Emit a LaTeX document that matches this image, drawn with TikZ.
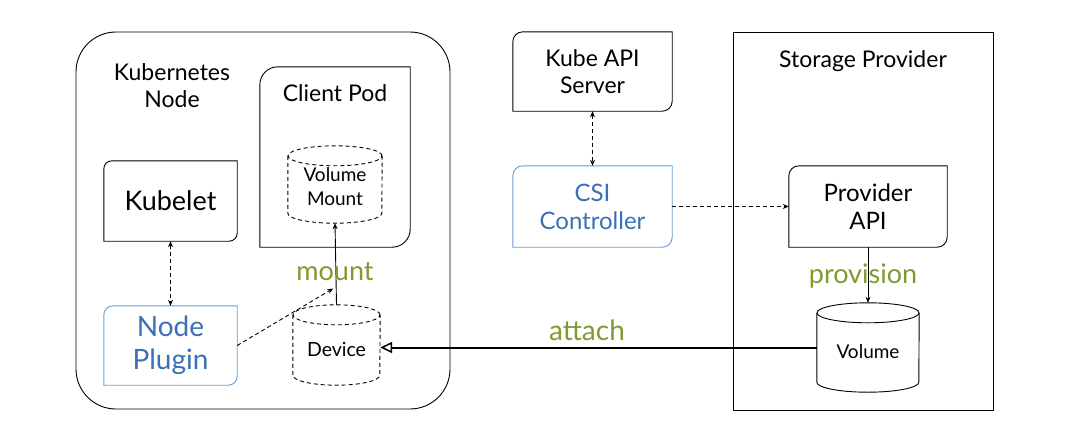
\documentclass[tikz,border=0pt]{standalone}
\usepackage{fontspec}
\setmainfont{Lato}
\usetikzlibrary{arrows.meta,calc}
\definecolor{csiblue}{HTML}{3B6FB6}
\definecolor{csiline}{HTML}{6A9BD3}
\definecolor{csigreen}{HTML}{7E9B2F}
\newcommand{\fs}[1]{\fontsize{#1}{1.17\dimexpr#1pt\relax}\selectfont}
\tikzstyle{box}=[inner sep=0pt, align=center]
\tikzstyle{edge}=[draw, line width=0.9pt]
\tikzstyle{dashline}=[draw, line width=0.9pt, dash pattern=on 4pt off 3pt]
\tikzstyle{oneway}=[-{Stealth[length=6pt,width=5pt]}]
\tikzstyle{twoway}=[{Stealth[length=6pt,width=5pt]}-{Stealth[length=6pt,width=5pt]}]
\tikzstyle{verb}=[text=csigreen, inner sep=0pt]
% box with rounded top left and bottom right corners
\newcommand{\tabbox}[3]{\draw[line width=0.9pt,#3] (#1.south west) -- ([yshift=-#2pt]#1.north west)
  arc[start angle=180,end angle=90,radius=#2pt] -- (#1.north east) -- ([yshift=#2pt]#1.south east)
  arc[start angle=0,end angle=-90,radius=#2pt] -- cycle;}
% cylinder drawn round a node: name, half width, style
\newcommand{\drum}[3]{\draw[line width=0.9pt,#3] ([yshift=-10pt]#1.north west) -- ([yshift=10pt]#1.south west)
  arc[start angle=180,end angle=360,x radius=#2pt,y radius=10pt] -- ([yshift=-10pt]#1.north east);
  \draw[line width=0.9pt,#3] ([yshift=-10pt]#1.north) ellipse[x radius=#2pt,y radius=10pt];}

\begin{document}
\begin{tikzpicture}[x=1pt,y=-1pt]
    \path[use as bounding box] (0,0) rectangle (1070,439);

    % kubernetes node
    \node[box, draw, line width=0.9pt, rounded corners=40pt, minimum width=374pt, minimum height=377pt] (knode) at (263,220.5) {};
    \node[box, font=\fs{23}] (klabel) at (172,86) {Kubernetes\\Node};
    \node[box, minimum width=150pt, minimum height=180pt] (pod) at (335,157) {};
    \node[box, font=\fs{23}] (podlabel) at (335,93) {Client Pod};
    \node[box, minimum width=94pt, minimum height=77pt, font=\fontsize{19}{24}\selectfont] (vmount) at (335,184.5) {\\[-5pt]Volume\\Mount};
    \node[box, minimum width=133pt, minimum height=80pt, font=\fs{27}] (kubelet) at (170.5,201) {Kubelet};
    \node[box, minimum width=133pt, minimum height=79pt, font=\fs{28}, text=csiblue] (plugin) at (170.5,345.5) {Node\\Plugin};
    \node[box, minimum width=87pt, minimum height=80pt, font=\fs{19.5}] (device) at (336.5,345) {\\[0pt]Device};

    % control plane
    \node[box, minimum width=159pt, minimum height=79pt, font=\fs{23}] (apiserver) at (592.5,71.5) {Kube API\\Server};
    \node[box, minimum width=159pt, minimum height=81pt, font=\fs{24}, text=csiblue] (csi) at (592.5,206.5) {CSI\\Controller};

    % storage provider
    \node[box, draw, line width=0.9pt, minimum width=260pt, minimum height=378pt] (storage) at (863,221) {};
    \node[box, font=\fs{23}] (slabel) at (863,61) {Storage Provider};
    \node[box, minimum width=158pt, minimum height=81pt, font=\fs{24}] (provapi) at (868,206.5) {Provider\\API};
    \node[box, minimum width=102pt, minimum height=89pt, font=\fs{19}] (volume) at (868,347.5) {\\[0pt]Volume};

    \tabbox{pod}{18}{}
    \tabbox{kubelet}{8}{}
    \tabbox{plugin}{9}{csiline}
    \tabbox{apiserver}{10}{}
    \tabbox{csi}{10}{csiline}
    \tabbox{provapi}{10}{}
    \drum{vmount}{47}{dash pattern=on 4pt off 3pt}
    \drum{device}{43.5}{dash pattern=on 4pt off 3pt}
    \drum{volume}{51}{}

    \coordinate (mnt) at ($(device.north)!0.2!(vmount.south)+(-3,0)$);

    \path[dashline, twoway] (kubelet) -- (plugin);
    \path[dashline, twoway] (apiserver) -- (csi);
    \path[dashline, oneway] (csi) -- (provapi);
    \path[dashline, oneway] (plugin.east) -- (mnt);
    \path[edge, oneway] (device.north) -- (vmount.south);
    \path[edge, oneway] (provapi.south -| volume.north) -- (volume.north);
    \path[draw, line width=2pt, -{Triangle[open,length=12pt,width=11pt,line width=1.5pt]}] (volume.west) -- (volume.west -| device.east);

    \node[verb, font=\fs{27}] (mountlabel) at (335,272) {mount};
    \node[verb, font=\fs{28}] (attachlabel) at (587,330) {attach};
    \node[verb, font=\fs{27}] (provlabel) at (863,276) {provision};
\end{tikzpicture}
\end{document}
